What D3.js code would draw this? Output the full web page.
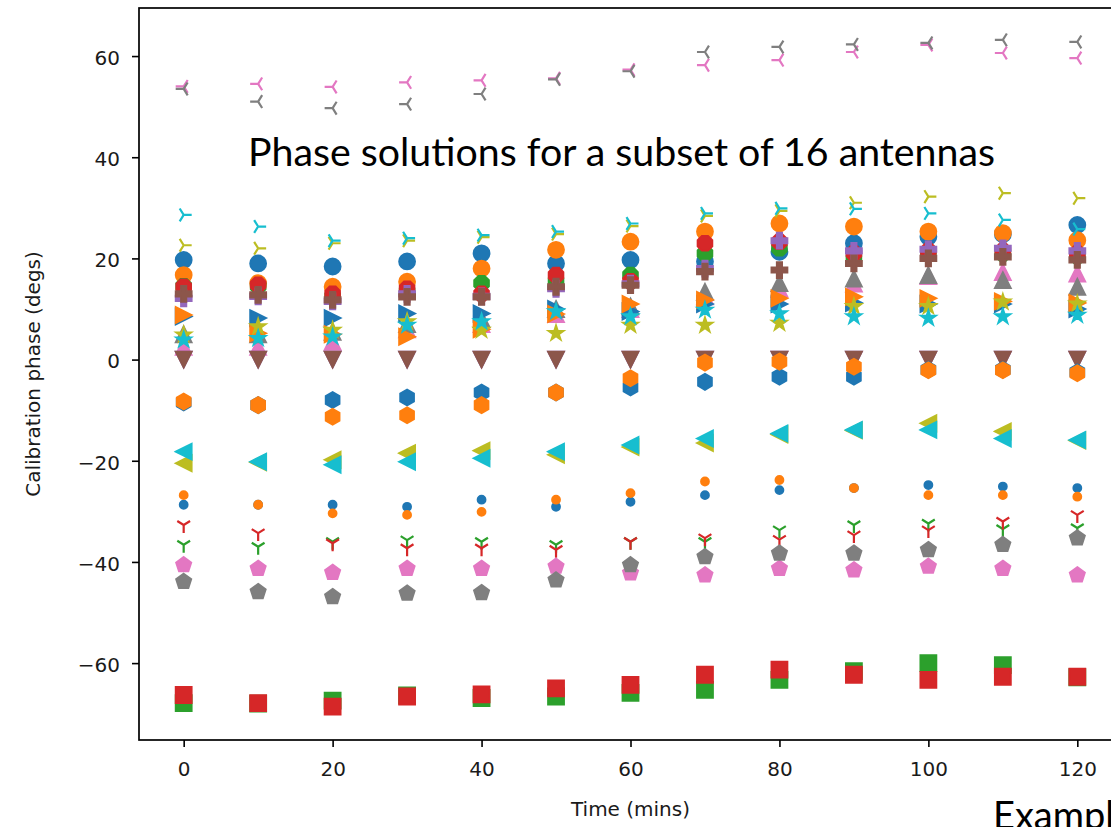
<!DOCTYPE html>
<html>
  <head>
    <meta charset="utf-8">
    <script src="https://cdnjs.cloudflare.com/ajax/libs/d3/7.8.5/d3.min.js"></script>
    <style>
      body { margin: 0; background: #fff; }
      svg { display: block; }
      .tick text { font-family: "DejaVu Sans", sans-serif; font-size: 20px; fill: #1a1a1a; }
      .axis-label { font-family: "DejaVu Sans", sans-serif; font-size: 20px; fill: #1a1a1a; }
      .overlay { font-family: Lato, "Open Sans", sans-serif; fill: #000; }
    </style>
  </head>
  <body>
    <svg></svg>
    <script>
      const times = [0, 10, 20, 30, 40, 50, 60, 70, 80, 90, 100, 110, 120];
      const xTicks = [0, 20, 40, 60, 80, 100, 120];
      const yTicks = [-60, -40, -20, 0, 20, 40, 60];

      // phase (degs) per antenna, two polarisations each
      const pointBlue = [-28.7, -28.7, -28.7, -29.1, -27.7, -29.1, -28.1, -26.8, -25.8, -25.4, -24.8, -25.1, -25.4];
      const pointOrange = [-26.8, -28.7, -30.4, -30.7, -30.1, -27.7, -26.4, -24.1, -23.8, -25.4, -26.8, -26.8, -27.1];
      const upPink = [2.5, 2.5, 3.5, 6, 7, 9, 10, 12.5, 14, 15, 16.5, 17.3, 17];
      const upGrey = [5, 5, 5.5, 7, 8, 10, 10.5, 13.4, 15.1, 16, 16.7, 15.7, 14.4];
      const circleBlue = [19.7, 19, 18.4, 19.4, 21, 19, 19.7, 19.4, 21.3, 23, 24.3, 24.8, 26.6];
      const circleOrange = [16.7, 15.1, 14.4, 15.4, 18, 21.7, 23.3, 25.3, 26.9, 26.3, 25.3, 25, 23.6];
      const octGreen = [14.5, 14.5, 12.5, 13.5, 15.1, 15.5, 16.7, 21, 22, 20, 21, 21, 20.5];
      const octRed = [14.4, 14.8, 13, 14, 13, 16.7, 15.5, 23, 23.3, 21, 21.5, 21.5, 21];
      const plusPurple = [12.1, 12.5, 11.5, 13, 12.5, 14, 15, 18, 23.5, 21.5, 21.8, 22, 21.5];
      const plusBrown = [13, 12.8, 11.8, 12.4, 12.4, 14.4, 14.7, 17.4, 17.7, 19, 20, 20.3, 19.7];
      const downPurple = [0, 0, 0, 0, 0, 0, 0, 0, 0, 0, 0, 0, 0];
      const downBrown = [0, 0, 0, 0, 0, 0, 0, 0, 0, 0, 0, 0, 0];
      const rightBlue = [8.5, 8.2, 8.2, 9.1, 9.1, 10, 9.5, 11, 11, 11.2, 11, 11, 10];
      const rightOrange = [8.8, 5.2, 5, 4.5, 6, 9, 11, 11.8, 12.1, 12.4, 12.1, 11.5, 11.2];
      const starOlive = [4.9, 6.5, 5.8, 7.5, 5.8, 5.2, 6.8, 6.8, 7.2, 10.5, 10.5, 11.4, 11];
      const starCyan = [3.9, 4.2, 4.5, 6.8, 7.5, 9.5, 8.5, 9.8, 9.1, 8.5, 8.2, 8.5, 8.8];
      const hexBlue = [-8.5, -9, -8, -7.5, -6.5, -6.5, -5.5, -4.4, -3.4, -3.4, -2, -2, -2.5];
      const hexOrange = [-8.3, -9, -11.3, -11, -9, -6.5, -3.7, -0.6, -0.4, -1.4, -2.1, -2.1, -2.7];
      const leftOlive = [-20.5, -20.3, -19.8, -18.5, -18, -18.8, -17.3, -16.5, -14.8, -14, -12.6, -14.2, -16];
      const leftCyan = [-18.2, -20.2, -20.8, -20.2, -19.5, -18.2, -16.9, -15.6, -14.6, -13.9, -13.9, -15.6, -15.9];
      const triDownGreen = [-36.6, -37, -36, -35.7, -36, -36.6, -36, -36, -33.7, -32.7, -32.4, -33.5, -33.3];
      const triDownRed = [-32.7, -34.3, -36.3, -37.3, -37.3, -37.6, -36, -35.3, -35.6, -34.7, -33.7, -32, -30.7];
      const triLeftPink = [54, 54.5, 53.9, 54.8, 55.2, 55.6, 57.3, 58.2, 59.2, 60.8, 62.2, 60.6, 59.6];
      const triLeftGrey = [53.5, 51, 49.7, 50.5, 52.5, 55.4, 57, 60.8, 61.8, 62.3, 62.6, 63.2, 62.8];
      const triRightOlive = [22.6, 22, 23, 23.5, 24.2, 24.8, 26.4, 28.4, 29.4, 31, 32.2, 32.9, 31.9];
      const triRightCyan = [28.6, 26.3, 23.5, 24, 24.6, 25.3, 26.9, 28.9, 29.9, 29.8, 28.9, 27.6, 25.8];
      const squareGreen = [-67.9, -68, -67.4, -66.4, -66.9, -66.6, -65.9, -65.3, -63.3, -61.6, -60, -60.4, -62.8];
      const squareRed = [-66.3, -67.9, -68.6, -66.6, -66.2, -65, -64.3, -62.3, -61.3, -62.3, -63.3, -62.7, -62.7];
      const pentPink = [-40.6, -41.3, -42.1, -41.3, -41.3, -40.9, -42.2, -42.6, -41.3, -41.6, -40.9, -41.3, -42.6];
      const pentGrey = [-43.9, -45.9, -46.9, -46.2, -46.1, -43.6, -40.6, -39, -38.3, -38.3, -37.6, -36.6, -35.3];

      const c = {
        blue: "#1f77b4", orange: "#ff7f0e", green: "#2ca02c", red: "#d62728", purple: "#9467bd",
        brown: "#8c564b", pink: "#e377c2", grey: "#7f7f7f", olive: "#bcbd22", cyan: "#17becf"
      };

      // plotting order (later ones end up on top)
      const series = [
        [pointBlue, ".", c.blue], [pointOrange, ".", c.orange],
        [upPink, "^", c.pink], [upGrey, "^", c.grey],
        [circleBlue, "o", c.blue], [circleOrange, "o", c.orange],
        [octGreen, "8", c.green], [octRed, "8", c.red],
        [plusPurple, "P", c.purple], [plusBrown, "P", c.brown],
        [downPurple, "v", c.purple], [downBrown, "v", c.brown],
        [rightBlue, ">", c.blue], [rightOrange, ">", c.orange],
        [starOlive, "*", c.olive], [starCyan, "*", c.cyan],
        [hexBlue, "h", c.blue], [hexOrange, "h", c.orange],
        [leftOlive, "<", c.olive], [leftCyan, "<", c.cyan],
        [triDownGreen, "1", c.green], [triDownRed, "1", c.red],
        [triLeftPink, "3", c.pink], [triLeftGrey, "3", c.grey],
        [triRightOlive, "4", c.olive], [triRightCyan, "4", c.cyan],
        [squareGreen, "s", c.green], [squareRed, "s", c.red],
        [pentPink, "p", c.pink], [pentGrey, "p", c.grey]
      ];

      const W = 1111, H = 827;
      const plotL = 139, plotT = 8, plotR = 1122, plotB = 740;

      const svg = d3.select("svg").attr("width", W).attr("height", H);

      const x = d3.scaleLinear().domain([-6, 126]).range([plotL, plotR]);
      const y = d3.scaleLinear().domain([-75.2, 69.5]).range([plotB, plotT]);

      const MS = 16;

      function poly(n, r, rotDeg) {
        const pts = d3.range(n).map(k => {
          const a = (rotDeg + k * 360 / n - 90) * Math.PI / 180;
          return [r * Math.cos(a), r * Math.sin(a)];
        });
        return "M" + pts.map(p => p.join(",")).join("L") + "Z";
      }

      function star(r) {
        const pts = d3.range(10).map(k => {
          const a = (k * 36 - 90) * Math.PI / 180;
          const rr = k % 2 ? r * 0.381966 : r;
          return [rr * Math.cos(a), rr * Math.sin(a)];
        });
        return "M" + pts.map(p => p.join(",")).join("L") + "Z";
      }

      function circle(r) {
        const p = d3.path();
        p.arc(0, 0, r, 0, 2 * Math.PI);
        p.closePath();
        return p.toString();
      }

      function arms(list, r) {
        return list.map(([ax, ay]) => `M0,0L${ax * r},${ay * r}`).join("");
      }

      function markerPath(m) {
        const h = MS / 2;
        switch (m) {
          case "o": return circle(h);
          case ".": return circle(h / 2);
          case "s": return `M${-h},${-h}H${h}V${h}H${-h}Z`;
          case "^": return `M0,${-h}L${h},${h}L${-h},${h}Z`;
          case "v": return `M0,${h}L${h},${-h}L${-h},${-h}Z`;
          case "<": return `M${-h},0L${h},${-h}L${h},${h}Z`;
          case ">": return `M${h},0L${-h},${-h}L${-h},${h}Z`;
          case "p": return poly(5, h, 0);
          case "h": return poly(6, h, 0);
          case "8": return poly(8, h, 22.5);
          case "*": return star(h);
          case "P": {
            const a = MS / 6, b = MS / 2;
            return `M${-a},${-b}H${a}V${-a}H${b}V${a}H${a}V${b}H${-a}V${a}H${-b}V${-a}H${-a}Z`;
          }
          case "1": return arms([[0, 1], [0.8, -0.5], [-0.8, -0.5]], h);
          case "3": return arms([[-1, 0], [0.5, -0.8], [0.5, 0.8]], h);
          case "4": return arms([[1, 0], [-0.5, 0.8], [-0.5, -0.8]], h);
        }
      }

      const lineMarkers = new Set(["1", "3", "4"]);

      const plot = svg.append("g");
      series.forEach(([values, marker, color]) => {
        const line = lineMarkers.has(marker);
        plot.append("g")
          .selectAll("path")
          .data(times.map((t, i) => ({ t, v: values[i] })))
          .join("path")
          .attr("transform", d => `translate(${x(d.t)},${y(d.v)})`)
          .attr("d", markerPath(marker))
          .attr("fill", line ? "none" : color)
          .attr("stroke", color)
          .attr("stroke-width", line ? 2.2 : 1.8)
          .attr("stroke-linejoin", "miter");
      });

      // frame
      svg.append("rect")
        .attr("x", plotL).attr("y", plotT)
        .attr("width", plotR - plotL).attr("height", plotB - plotT)
        .attr("fill", "none").attr("stroke", "#000").attr("stroke-width", 1.7);

      const fmt = d => d < 0 ? "\u2212" + Math.abs(d) : String(d);

      const xAxis = svg.append("g")
        .attr("transform", `translate(0,${plotB})`)
        .call(d3.axisBottom(x).tickValues(xTicks).tickFormat(fmt).tickSize(7).tickPadding(15));
      const yAxis = svg.append("g")
        .attr("transform", `translate(${plotL},0)`)
        .call(d3.axisLeft(y).tickValues(yTicks).tickFormat(fmt).tickSize(7).tickPadding(12));
      [xAxis, yAxis].forEach(a => {
        a.select(".domain").remove();
        a.selectAll(".tick line").attr("stroke", "#000").attr("stroke-width", 1.6);
        a.attr("font-family", null).attr("font-size", null);
      });
      yAxis.selectAll(".tick text").attr("dy", "0.42em");

      svg.append("text")
        .attr("class", "axis-label")
        .attr("x", (plotL + plotR) / 2)
        .attr("y", 816)
        .attr("text-anchor", "middle")
        .text("Time (mins)");

      svg.append("text")
        .attr("class", "axis-label")
        .attr("transform", `translate(40,${(plotT + plotB) / 2}) rotate(-90)`)
        .attr("text-anchor", "middle")
        .text("Calibration phase (degs)");

      svg.append("text")
        .attr("class", "overlay")
        .attr("x", 248)
        .attr("y", 166)
        .attr("font-size", 38)
        .attr("textLength", 747)
        .attr("lengthAdjust", "spacingAndGlyphs")
        .text("Phase solutions for a subset of 16 antennas");

      svg.append("text")
        .attr("class", "overlay")
        .attr("x", 993)
        .attr("y", 829)
        .attr("font-size", 38)
        .text("Example");
    </script>
  </body>
</html>
